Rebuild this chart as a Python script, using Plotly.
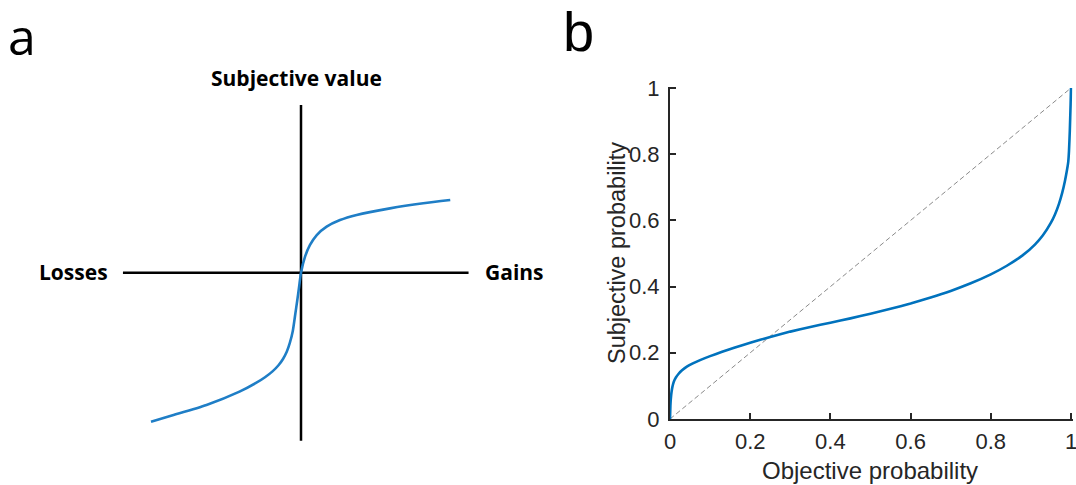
import plotly.graph_objects as go

# ---------------- Panel a: value function ----------------
outcome = [-1.0, -0.85, -0.63, -0.41, -0.3, -0.24, -0.19, -0.15, -0.12, -0.095, -0.075, -0.055, -0.038,
           -0.025, -0.013, 0.0, 0.027, 0.06, 0.105, 0.171, 0.26, 0.371, 0.593, 0.815, 0.995]
subjective_value = [-0.993, -0.949, -0.882, -0.793, -0.735, -0.697, -0.658, -0.617, -0.575, -0.527, -0.47,
                    -0.39, -0.275, -0.185, -0.097, 0.0, 0.107, 0.185, 0.251, 0.307, 0.351, 0.385, 0.429,
                    0.463, 0.485]
h_axis_x = [-1.187, 1.117]
h_axis_y = [0.0, 0.0]
v_axis_x = [0.0, 0.0]
v_axis_y = [-1.121, 1.118]

# ---------------- Panel b: probability weighting ----------------
objective_p = [0, 0.001, 0.002, 0.004, 0.006, 0.008, 0.011, 0.015, 0.021, 0.03, 0.042, 0.057, 0.075, 0.1,
               0.13, 0.16, 0.2, 0.25, 0.3, 0.35, 0.4, 0.45, 0.5, 0.55, 0.6, 0.65, 0.7, 0.75, 0.8, 0.84,
               0.88, 0.91, 0.93, 0.95, 0.96, 0.97, 0.978, 0.985, 0.99, 0.993, 0.995, 0.997, 0.999, 1.0]
subjective_p = [0, 0.04, 0.06, 0.083, 0.097, 0.107, 0.117, 0.126, 0.136, 0.147, 0.158, 0.168, 0.178, 0.19,
                0.203, 0.215, 0.23, 0.248, 0.264, 0.278, 0.291, 0.304, 0.318, 0.333, 0.349, 0.367, 0.387,
                0.41, 0.437, 0.463, 0.495, 0.527, 0.555, 0.593, 0.618, 0.65, 0.683, 0.72, 0.752, 0.775,
                0.81, 0.87, 0.95, 1.0]
identity = [0, 1]
tick_vals = [0, 0.2, 0.4, 0.6, 0.8, 1]
tick_text = ["0", "0.2", "0.4", "0.6", "0.8", "1"]

W, H = 1076, 485
BLUE = "#0072BD"
DARK = "#262626"

fig = go.Figure()

fig.add_trace(go.Scatter(x=h_axis_x, y=h_axis_y, mode="lines", line=dict(color="black", width=2.5),
                         xaxis="x", yaxis="y", hoverinfo="skip"))
fig.add_trace(go.Scatter(x=v_axis_x, y=v_axis_y, mode="lines", line=dict(color="black", width=2.5),
                         xaxis="x", yaxis="y", hoverinfo="skip"))
fig.add_trace(go.Scatter(x=outcome, y=subjective_value, mode="lines",
                         line=dict(color="#1f7ec6", width=2.6, shape="spline", smoothing=0.7),
                         xaxis="x", yaxis="y"))
fig.add_trace(go.Scatter(x=identity, y=identity, mode="lines",
                         line=dict(color="#8a8a8a", width=1, dash="5px,3px"),
                         xaxis="x2", yaxis="y2", hoverinfo="skip"))
fig.add_trace(go.Scatter(x=objective_p, y=subjective_p, mode="lines",
                         line=dict(color=BLUE, width=2.6, shape="spline", smoothing=0.5),
                         xaxis="x2", yaxis="y2"))


def px_x(p):
    return p / W


def px_y(p):
    return 1 - p / H


# panel a: 1 data unit = 150 px, origin at pixel (301, 272.7)
ax_a_x0, ax_a_x1 = -1.9, 1.9
ax_a_y0, ax_a_y1 = -1.4, 1.4
ox, oy = 301, 272.7
xa_dom = [px_x(ox + ax_a_x0 * 150), px_x(ox + ax_a_x1 * 150)]
ya_dom = [px_y(oy - ax_a_y0 * 150), px_y(oy - ax_a_y1 * 150)]

# panel b plot area: x 670..1071, y 88..419 for data 0..1
bx0, bx1, by0, by1 = 670, 1071, 419, 88
xr_max = 1.004
yr_max = 1.004
xb_dom = [px_x(bx0), min(1.0, px_x(bx0 + (bx1 - bx0) * xr_max))]
yb_dom = [px_y(by0), px_y(by0 - (by0 - by1) * yr_max)]

hidden = dict(visible=False, showgrid=False, zeroline=False, automargin=False)
tickfont = dict(family="Liberation Sans, Arial", size=22, color=DARK)

fig.update_layout(
    width=W, height=H,
    margin=dict(l=0, r=0, t=0, b=0, pad=0, autoexpand=False),
    paper_bgcolor="white", plot_bgcolor="white",
    showlegend=False,
    xaxis=dict(domain=xa_dom, range=[ax_a_x0, ax_a_x1], **hidden),
    yaxis=dict(domain=ya_dom, range=[ax_a_y0, ax_a_y1], **hidden),
    xaxis2=dict(domain=xb_dom, range=[0, xr_max], anchor="y2", automargin=False,
                showline=True, linecolor=DARK, linewidth=2, mirror=False,
                ticks="inside", ticklen=6, tickwidth=1.5, tickcolor=DARK,
                tickvals=tick_vals, ticktext=tick_text, tickfont=tickfont,
                ticklabeloverflow="allow", ticklabelstandoff=2,
                showgrid=False, zeroline=False),
    yaxis2=dict(domain=yb_dom, range=[0, yr_max], anchor="x2", automargin=False,
                showline=True, linecolor=DARK, linewidth=2, mirror=False,
                ticks="inside", ticklen=6, tickwidth=1.5, tickcolor=DARK,
                tickvals=tick_vals, ticktext=tick_text, tickfont=tickfont,
                ticklabeloverflow="allow", ticklabelstandoff=4,
                showgrid=False, zeroline=False),
)

bold = dict(family="Open Sans", size=21, color="black")
annots = [
    dict(text="<b>Subjective value</b>", x=px_x(297), y=px_y(78), font=bold),
    dict(text="<b>Losses</b>", x=px_x(73), y=px_y(272), font=bold),
    dict(text="<b>Gains</b>", x=px_x(514), y=px_y(272), font=bold),
    dict(text="a", x=px_x(21.5), y=1.0, yanchor="top", font=dict(family="Open Sans", size=50, color="black")),
    dict(text="b", x=px_x(578.5), y=px_y(32), font=dict(family="Liberation Sans, Arial", size=56, color="black")),
    dict(text="Objective probability", x=px_x(870), y=px_y(470),
         font=dict(family="Liberation Sans, Arial", size=24, color=DARK)),
    dict(text="Subjective probability", x=px_x(617), y=px_y(253), textangle=-90,
         font=dict(family="Liberation Sans, Arial", size=23.5, color=DARK)),
]
for a in annots:
    a.setdefault("yanchor", "middle")
    a.update(xref="paper", yref="paper", showarrow=False, xanchor="center")
fig.update_layout(annotations=annots)

fig.write_html("out.html")
